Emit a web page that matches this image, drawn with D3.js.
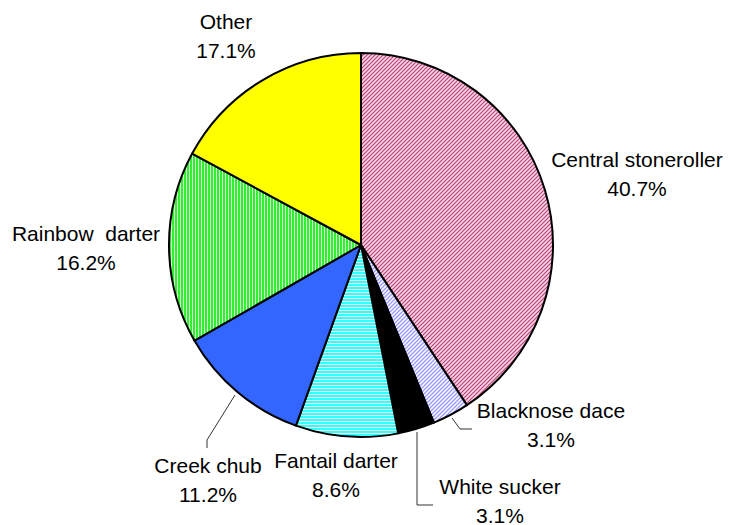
<!DOCTYPE html>
<html>
<head>
<meta charset="utf-8">
<script src="https://cdn.jsdelivr.net/npm/d3@7"></script>
<style>
  html, body { margin: 0; padding: 0; background: #fff; }
  svg text { font-family: "Liberation Sans", Arial, sans-serif; font-size: 21px; fill: #000; }
</style>
</head>
<body>
<svg id="chart" width="730" height="525"></svg>
<script>
// Species composition of the catch (percent of individuals)
const species = ["Central stoneroller", "Blacknose dace", "White sucker", "Fantail darter", "Creek chub", "Rainbow darter", "Other"];
const percents = [40.7, 3.1, 3.1, 8.6, 11.2, 16.2, 17.1];
const labelNames = ["Central stoneroller", "Blacknose dace", "White sucker", "Fantail darter", "Creek chub", "Rainbow  darter", "Other"];

// Label placement (centre x, first baseline y) and leader lines, per slice
const labelPos = [[637, 167], [551, 418], [500, 494], [336, 468], [208, 473], [86, 241], [226, 29]];
const leaders = [null, [[452, 418], [460, 429], [472, 429]], [[417, 432], [417, 505], [433, 505]], null, [[235, 395], [207, 440], [207, 448]], null, null];

const svg = d3.select("#chart");
const defs = svg.append("defs");

// Fill patterns
function pat(id, w, h, bg, draw) {
  const p = defs.append("pattern").attr("id", id).attr("patternUnits", "userSpaceOnUse")
    .attr("width", w).attr("height", h);
  p.append("rect").attr("width", w).attr("height", h).attr("fill", bg);
  draw(p);
}
pat("p-stone", 4, 4, "#fad4e4", p => {
  p.append("path").attr("d", "M0,4 L4,0 M-1,1 L1,-1 M3,5 L5,3").attr("stroke", "#b8437a").attr("stroke-width", 1.2);
});
pat("p-dace", 4, 4, "#ffffff", p => {
  p.append("path").attr("d", "M0,4 L4,0 M-1,1 L1,-1 M3,5 L5,3").attr("stroke", "#9a9aff").attr("stroke-width", 1.4);
});
pat("p-fantail", 3, 3, "#e8ffff", p => {
  p.append("rect").attr("width", 3).attr("height", 2).attr("fill", "#33ffff");
});
pat("p-rainbow", 3, 3, "#d0ffd0", p => {
  p.append("rect").attr("width", 2).attr("height", 3).attr("fill", "#33ee33");
});

const fills = ["url(#p-stone)", "url(#p-dace)", "#000000", "url(#p-fantail)", "#3366ff", "url(#p-rainbow)", "#ffff00"];

const cx = 361, cy = 245, r = 192;
const pie = d3.pie().sort(null).value(d => d);
const arc = d3.arc().innerRadius(0).outerRadius(r);
const arcs = pie(percents);

const g = svg.append("g").attr("transform", `translate(${cx},${cy})`);
g.selectAll("path.slice").data(arcs).join("path")
  .attr("class", "slice")
  .attr("d", arc)
  .attr("fill", (d, i) => fills[i])
  .attr("stroke", "#000")
  .attr("stroke-width", 2)
  .attr("stroke-linejoin", "round");

// Leader lines
const line = d3.line();
svg.selectAll("path.leader").data(leaders.filter(l => l)).join("path")
  .attr("class", "leader")
  .attr("d", line)
  .attr("fill", "none")
  .attr("stroke", "#333")
  .attr("stroke-width", 1);

// Labels: name on first line, percentage below
const labels = svg.selectAll("g.label").data(arcs).join("g").attr("class", "label");
labels.append("text")
  .attr("x", (d, i) => labelPos[i][0])
  .attr("y", (d, i) => labelPos[i][1])
  .attr("text-anchor", "middle")
  .style("white-space", "pre")
  .text((d, i) => labelNames[i]);
labels.append("text")
  .attr("x", (d, i) => labelPos[i][0])
  .attr("y", (d, i) => labelPos[i][1] + 29)
  .attr("text-anchor", "middle")
  .text(d => d.data.toFixed(1) + "%");
</script>
</body>
</html>
